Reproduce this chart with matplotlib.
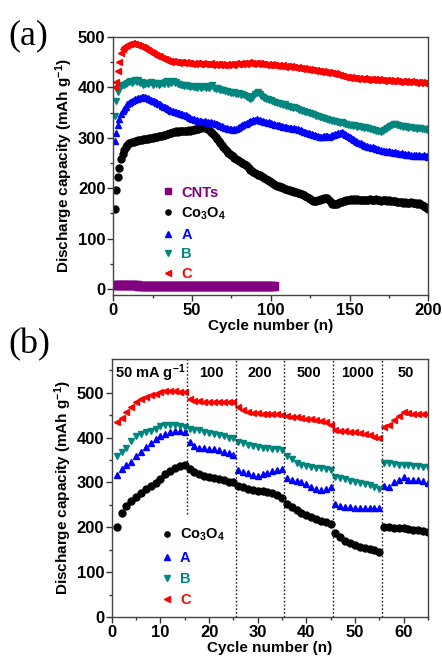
import matplotlib
matplotlib.use("Agg")
import matplotlib.pyplot as plt
from matplotlib.ticker import MultipleLocator

plt.rcParams['font.family'] = ['Liberation Sans', 'DejaVu Sans']
plt.rcParams['font.weight'] = 'bold'
plt.rcParams['mathtext.default'] = 'regular'

# ---------------- Panel (a) data: cycling at 50 mA/g ----------------
cnts_a = [7, 7, 7, 7, 7, 7, 7, 7, 7, 7, 7, 7, 7, 7, 7, 6, 6, 6, 6, 6,
          6, 6, 6, 6, 6, 6, 6, 6, 6, 6, 6, 6, 6, 6, 6, 6, 6, 6, 6, 6,
          6, 6, 6, 6, 6, 6, 6, 6, 6, 6, 6, 6, 6, 6, 6, 6, 6, 6, 6, 6,
          6, 6, 6, 6, 6, 6, 6, 6, 6, 6, 6, 6, 6, 6, 6, 6, 6, 6, 6, 6,
          6, 6, 5, 5, 5, 5, 5, 5, 5, 5, 5, 5, 5, 5, 5, 5, 5, 5, 5, 5,
          5, 5]

co3o4_a = [159, 197, 222, 240, 258, 268, 276, 282, 286, 289,
           290, 291, 292, 293, 294, 295, 295, 296, 297, 297,
           298, 298, 299, 300, 300, 301, 301, 302, 303, 303,
           304, 305, 306, 307, 308, 309, 310, 311, 312, 313,
           312, 313, 314, 313, 314, 313, 314, 315, 314, 315,
           316, 317, 318, 318, 319, 320, 321, 320, 319, 317,
           315, 312, 310, 306, 302, 298, 294, 290, 286, 282,
           278, 274, 270, 268, 266, 263, 260, 258, 256, 254,
           252, 250, 248, 246, 243, 240, 237, 235, 233, 231,
           229, 227, 226, 224, 222, 220, 218, 216, 214, 212,
           210, 208, 206, 205, 204, 203, 202, 200, 199, 198,
           197, 196, 195, 194, 193, 192, 191, 190, 189, 188,
           186, 184, 182, 180, 178, 176, 175, 174, 175, 176,
           177, 178, 179, 180, 181, 180, 176, 172, 169, 168,
           168, 169, 171, 172, 173, 174, 175, 176, 177, 177,
           178, 177, 178, 177, 178, 177, 176, 177, 176, 177,
           176, 177, 178, 177, 176, 177, 178, 177, 176, 175,
           176, 177, 176, 175, 176, 175, 174, 175, 174, 173,
           172, 173, 172, 171, 172, 171, 170, 171, 172, 170,
           171, 170, 169, 170, 168, 166, 164, 162, 160, 158]

a_a = [293, 310, 325, 338, 348, 353, 358, 362, 366, 369,
       371, 373, 374, 376, 377, 378, 379, 380, 381, 380,
       379, 378, 377, 375, 373, 372, 370, 369, 367, 366,
       364, 362, 361, 359, 358, 356, 354, 353, 352, 351,
       350, 349, 348, 347, 346, 345, 343, 341, 340, 338,
       337, 336, 335, 334, 333, 333, 332, 333, 331, 332,
       330, 331, 329, 330, 328, 327, 325, 324, 323, 322,
       320, 319, 318, 317, 318, 316, 317, 318, 320, 322,
       324, 325, 327, 328, 330, 332, 333, 334, 335, 336,
       337, 335, 336, 334, 333, 332, 331, 330, 331, 329,
       328, 327, 326, 325, 326, 324, 323, 322, 321, 322,
       320, 319, 320, 318, 319, 317, 318, 316, 315, 314,
       312, 311, 310, 309, 308, 307, 306, 305, 304, 303,
       302, 301, 302, 303, 304, 303, 302, 304, 305, 306,
       307, 308, 309, 310, 311, 310, 308, 306, 304, 302,
       300, 298, 296, 294, 292, 290, 289, 287, 286, 284,
       283, 282, 281, 280, 281, 279, 278, 277, 276, 275,
       274, 273, 274, 272, 273, 271, 272, 270, 271, 269,
       270, 268, 269, 267, 268, 266, 267, 265, 266, 264,
       265, 266, 264, 265, 263, 264, 265, 263, 264, 262]

b_a = [343, 372, 390, 400, 403, 405, 404, 407, 408, 410,
       412, 409, 413, 415, 411, 414, 408, 410, 405, 407,
       409, 406, 408, 410, 404, 408, 406, 409, 405, 407,
       408, 406, 410, 412, 407, 411, 409, 412, 408, 410,
       407, 406, 404, 405, 403, 404, 402, 403, 401, 402,
       400, 401, 399, 402, 400, 398, 401, 403, 399, 400,
       398, 402, 404, 399, 397, 398, 396, 395, 394, 395,
       393, 392, 390, 391, 389, 388, 390, 387, 386, 388,
       385, 387, 384, 382, 380, 378, 376, 379, 383, 386,
       388, 390, 386, 382, 380, 379, 377, 376, 375, 374,
       372, 371, 370, 369, 368, 367, 366, 365, 366, 364,
       363, 362, 361, 360, 361, 359, 357, 356, 355, 354,
       353, 352, 351, 350, 349, 348, 347, 345, 344, 343,
       342, 341, 340, 339, 338, 337, 336, 335, 334, 334,
       333, 332, 331, 330, 331, 329, 328, 327, 326, 325,
       326, 324, 325, 323, 322, 323, 321, 322, 320, 321,
       319, 320, 318, 317, 316, 315, 314, 313, 314, 312,
       313, 315, 317, 320, 322, 324, 326, 328, 327, 326,
       325, 324, 323, 322, 324, 321, 320, 322, 321, 319,
       320, 319, 318, 320, 319, 318, 317, 318, 316, 317]

c_a = [400, 410, 432, 450, 468, 476, 480, 483, 485, 486,
       487, 488, 486, 487, 485, 484, 483, 481, 480, 478,
       476, 475, 472, 470, 469, 467, 465, 463, 462, 460,
       459, 457, 456, 454, 453, 452, 451, 452, 450, 451,
       450, 449, 451, 450, 448, 450, 449, 448, 449, 447,
       448, 447, 449, 448, 447, 446, 448, 447, 446, 447,
       446, 448, 445, 446, 444, 446, 447, 445, 446, 444,
       445, 446, 445, 447, 446, 445, 447, 448, 446, 447,
       448, 446, 449, 447, 448, 450, 448, 449, 447, 448,
       449, 447, 448, 446, 447, 446, 445, 446, 444, 445,
       446, 444, 445, 443, 444, 442, 443, 444, 441, 442,
       443, 441, 442, 440, 441, 439, 440, 438, 439, 437,
       438, 436, 437, 435, 436, 434, 435, 433, 434, 432,
       433, 431, 432, 430, 431, 429, 430, 428, 429, 427,
       428, 426, 425, 424, 423, 422, 421, 420, 421, 419,
       420, 418, 419, 418, 417, 418, 416, 417, 418, 416,
       417, 415, 416, 417, 415, 416, 414, 415, 416, 414,
       415, 413, 414, 415, 413, 414, 412, 413, 414, 412,
       413, 411, 412, 413, 411, 412, 410, 411, 412, 410,
       411, 409, 410, 411, 409, 410, 408, 409, 410, 408]

# ---------------- Panel (b) data: rate capability ----------------
co3o4_b = [201, 231, 248, 258, 268, 277, 285, 292, 298, 307,
           318, 325, 332, 336, 338,
           330, 323, 318, 315, 312, 310, 308, 305, 302, 300,
           292, 290, 286, 283, 281, 280, 279, 277, 272, 266,
           251, 246, 238, 232, 227, 222, 218, 215, 212, 207,
           188, 178, 170, 164, 160, 156, 153, 151, 149, 146,
           201, 200, 199, 198, 198, 197, 195, 193, 191, 189]

a_b = [317, 330, 338, 345, 358, 368, 378, 388, 396, 403,
       408, 412, 414, 414, 413,
       391, 382, 377, 376, 375, 374, 372, 368, 365, 362,
       328, 323, 320, 316, 314, 318, 322, 326, 328, 330,
       310, 306, 304, 300, 296, 290, 285, 283, 285, 290,
       252, 248, 246, 245, 244, 244, 243, 243, 243, 242,
       291, 290, 300, 305, 313, 305, 306, 305, 303, 298]

b_b = [360, 367, 377, 392, 403, 408, 412, 415, 419, 425,
       428, 427, 427, 426, 424,
       420, 418, 416, 413, 411, 409, 406, 403, 400, 398,
       390, 387, 384, 381, 379, 377, 376, 375, 374, 372,
       360, 352, 343, 338, 336, 334, 333, 332, 330, 327,
       313, 311, 307, 303, 300, 298, 296, 294, 290, 285,
       343, 344, 342, 340, 339, 338, 337, 336, 335, 334]

c_b = [434, 444, 457, 469, 479, 485, 490, 495, 498, 502,
       503, 503, 503, 502, 501,
       487, 482, 481, 480, 480, 480, 480, 480, 480, 480,
       469, 462, 458, 455, 454, 453, 453, 453, 453, 451,
       449, 446, 445, 443, 442, 441, 440, 438, 434, 428,
       418, 415, 414, 413, 412, 411, 408, 405, 402, 400,
       424, 429, 440, 448, 456, 455, 452, 453, 452, 452]

rate_labels = ['50 mA g$^{-1}$', '100', '200', '500', '1000', '50']
rate_bounds = [15.5, 25.5, 35.5, 45.5, 55.5]
rate_centers = [7.8, 20.5, 30.5, 40.5, 50.5, 60.5]

RED = '#ff0000'
TEAL = '#00867e'
BLUE = '#0000ff'
BLACK = '#000000'
PURPLE = '#800080'

fig = plt.figure(figsize=(4.42, 6.60), dpi=100)

def style_axes(ax):
    for s in ax.spines.values():
        s.set_color('#444444')
        s.set_linewidth(1.0)
    ax.tick_params(which='major', direction='out', length=4, width=1,
                   labelsize=12, pad=1.5, colors='#333333', labelcolor='black')
    ax.tick_params(which='minor', direction='out', length=2.5, width=1,
                   colors='#333333')
    for lab in ax.get_xticklabels() + ax.get_yticklabels():
        lab.set_fontweight('bold')

# ---- (a)
ax1 = fig.add_axes([0.256, 0.553, 0.713, 0.391])
cyc_a = list(range(1, len(c_a) + 1))
cyc_cnt = list(range(1, len(cnts_a) + 1))
ms = 5.0
ax1.plot(cyc_cnt, cnts_a, ls='none', marker='s', ms=5.5, color=PURPLE, label='CNTs')
ax1.plot(cyc_a, co3o4_a, ls='none', marker='o', ms=ms, color=BLACK, label='Co$_3$O$_4$')
ax1.plot(cyc_a, a_a, ls='none', marker='^', ms=ms, color=BLUE, label='A')
ax1.plot(cyc_a, b_a, ls='none', marker='v', ms=ms, color=TEAL, label='B')
ax1.plot(cyc_a, c_a, ls='none', marker='<', ms=ms, color=RED, label='C')
ax1.set_xlim(0, 200)
ax1.set_ylim(-12, 500)
ax1.xaxis.set_major_locator(MultipleLocator(50))
ax1.xaxis.set_minor_locator(MultipleLocator(25))
ax1.yaxis.set_major_locator(MultipleLocator(100))
ax1.yaxis.set_minor_locator(MultipleLocator(50))
ax1.set_xlabel('Cycle number (n)', fontsize=11, fontweight='bold', labelpad=1)
ax1.set_ylabel('Discharge capacity (mAh g$^{-1}$)', fontsize=11, fontweight='bold', labelpad=2)
style_axes(ax1)
leg1 = ax1.legend(loc='upper left', bbox_to_anchor=(0.105, 0.475), frameon=False,
                  fontsize=10.5, handletextpad=0.3, labelspacing=0.4,
                  handlelength=1.2, markerscale=0.75)
for t, c in zip(leg1.get_texts(), [PURPLE, BLACK, BLUE, TEAL, RED]):
    t.set_color(c)
    t.set_fontweight('bold')

# ---- (b)
ax2 = fig.add_axes([0.253, 0.065, 0.715, 0.391])
cyc_b = list(range(1, len(c_b) + 1))
ms2 = 5.0
ax2.plot(cyc_b, co3o4_b, ls='none', marker='o', ms=ms2, color=BLACK, label='Co$_3$O$_4$')
ax2.plot(cyc_b, a_b, ls='none', marker='^', ms=ms2, color=BLUE, label='A')
ax2.plot(cyc_b, b_b, ls='none', marker='v', ms=ms2, color=TEAL, label='B')
ax2.plot(cyc_b, c_b, ls='none', marker='<', ms=ms2, color=RED, label='C')
ax2.set_xlim(0, 65)
ax2.set_ylim(0, 575)
for i, xb in enumerate(rate_bounds):
    ymin = 0.40 if i == 0 else 0.0
    ax2.axvline(xb, ymin=ymin, ymax=1, color='#222222', ls=(0, (1.2, 1.5)), lw=1.0)
for xc, lab in zip(rate_centers, rate_labels):
    ax2.text(xc, 543, lab, ha='center', va='center', fontsize=10.5, fontweight='bold')
ax2.xaxis.set_major_locator(MultipleLocator(10))
ax2.xaxis.set_minor_locator(MultipleLocator(5))
ax2.yaxis.set_major_locator(MultipleLocator(100))
ax2.yaxis.set_minor_locator(MultipleLocator(50))
ax2.set_xlabel('Cycle number (n)', fontsize=11, fontweight='bold', labelpad=1)
ax2.set_ylabel('Discharge capacity (mAh g$^{-1}$)', fontsize=11, fontweight='bold', labelpad=2)
style_axes(ax2)
leg2 = ax2.legend(loc='upper left', bbox_to_anchor=(0.105, 0.40), frameon=False,
                  fontsize=10.5, handletextpad=0.3, labelspacing=0.5,
                  handlelength=1.2, markerscale=0.75)
for t, c in zip(leg2.get_texts(), [BLACK, BLUE, TEAL, RED]):
    t.set_color(c)
    t.set_fontweight('bold')

fig.text(0.018, 0.945, '(a)', fontsize=26, family='Liberation Serif', fontweight='normal',
         va='center', ha='left')
fig.text(0.018, 0.478, '(b)', fontsize=26, family='Liberation Serif', fontweight='normal',
         va='center', ha='left')

fig.savefig('out.png', dpi=100)
